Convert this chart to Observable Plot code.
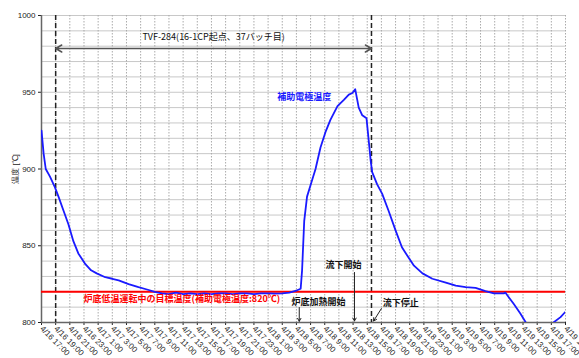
<!DOCTYPE html>
<html><head><meta charset="utf-8">
<script src="https://cdn.jsdelivr.net/npm/d3@7"></script>
<script src="https://cdn.jsdelivr.net/npm/@observablehq/plot@0.6"></script>
<style>body{margin:0;background:#fff} #chart svg{display:block}</style>
</head><body><div id="chart"></div>
<script>
// hours elapsed since 4/16 17:00
const hours = [0,0.3,0.6,1.2,1.9,2.4,3.1,3.8,4.5,5.2,6.2,7.0,7.8,9.0,10.0,10.9,12.3,13.7,14.9,16,17,18,19,20,21,22,23,24,25,26,27,28,29,30,31,32,33,34,35,36.1,36.6,36.8,37.1,37.5,38.1,38.7,39.4,40.1,40.8,41.8,42.7,43.4,43.9,44.3,44.8,45.3,45.9,46.2,46.5,46.7,47.4,48.1,49.0,50.0,50.9,51.6,52.6,53.8,55.2,57.1,58.5,59.9,61.3,62.7,63.9,65.3,65.5,66.7,67.6,68.4,69,72,72.3,73.3,74];
const temps = [925,910,900,895,888,882,873,864,853,845,838,834,832,829.5,828.5,827.5,825,823,821.5,820,819,818.5,819.5,818.5,819,818.5,819,818.5,819,819,818.5,819,819,818.5,819,819,818.8,819,819.5,821,822,834,866,882,891,900,914,924,932,941,945,948.5,949.5,952,940,935,933,919,905,898,890,884,873,860,849,844,837,832,828.5,826,824,823,822.5,820.5,819,819,819.5,812,806,800,797,797,800,803.5,807];
const tickHours = [0,2,4,6,8,10,12,14,16,18,20,22,24,26,28,30,32,34,36,38,40,42,44,46,48,50,52,54,56,58,60,62,64,66,68,70,72,74];
const tickLabels = ["4/16 17:00","4/16 19:00","4/16 21:00","4/16 23:00","4/17 1:00","4/17 3:00","4/17 5:00","4/17 7:00","4/17 9:00","4/17 11:00","4/17 13:00","4/17 15:00","4/17 17:00","4/17 19:00","4/17 21:00","4/17 23:00","4/18 1:00","4/18 3:00","4/18 5:00","4/18 7:00","4/18 9:00","4/18 11:00","4/18 13:00","4/18 15:00","4/18 17:00","4/18 19:00","4/18 21:00","4/18 23:00","4/19 1:00","4/19 3:00","4/19 5:00","4/19 7:00","4/19 9:00","4/19 11:00","4/19 13:00","4/19 15:00","4/19 17:00","4/19 19:00"];
const yTicks = [800,850,900,950,1000];
const yGrid = [810,820,830,840,850,860,870,880,890,900,910,920,930,940,950,960,970,980,990,1000];
const targetTemp = 820;
const batchHours = [2, 46.6];
const texts = ["TVF-284(16-1CP起点、37バッチ目)","補助電極温度","炉底低温運転中の目標温度(補助電極温度:820℃)","炉底加熱開始","流下開始","流下停止"];
const eventHours = [36.4, 44.2, 46.9];

const data = hours.map((h,i)=>({h, t: temps[i]}));
const labelOf = new Map(tickHours.map((h,i)=>[h, tickLabels[i]]));
const jp = "'Noto Sans CJK JP', sans-serif";

const chart = Plot.plot({
  width: 579, height: 358,
  marginLeft: 41, marginRight: 14, marginTop: 15, marginBottom: 36,
  style: {fontFamily: "'Liberation Sans', Arial, sans-serif", fontSize: "8px", background: "#fff", color: "#222"},
  x: {domain: [0, 74]},
  y: {domain: [800, 1000]},
  marks: [
    Plot.ruleY(yGrid, {stroke: "#c8c8c8", strokeWidth: 1}),
    Plot.ruleX(tickHours.slice(1), {stroke: "#aaa", strokeDasharray: "1.5,1.5", strokeWidth: 1}),
    Plot.axisX({ticks: tickHours, tickFormat: d => labelOf.get(d), tickRotate: 45, tickSize: 3, tickPadding: 2, label: null, fontSize: 8}),
    Plot.axisY({ticks: yTicks, tickFormat: d => String(d), tickSize: 3, tickPadding: 3, label: "温度 [℃]", labelAnchor: "center", labelArrow: "none", labelOffset: 29, fontSize: 8}),
    Plot.ruleX([0], {stroke: "#666", strokeWidth: 1.5}),
    Plot.ruleY([800], {stroke: "#666", strokeWidth: 1.5}),
    Plot.ruleX(batchHours, {stroke: "#222", strokeWidth: 1.5, strokeDasharray: "5,3"}),
    Plot.ruleY([targetTemp], {stroke: "#ff0000", strokeWidth: 2}),
    Plot.line(data, {x: "h", y: "t", stroke: "#1a1aff", strokeWidth: 1.8, clip: true}),
    // span arrow
    Plot.arrow([{x1: 24.3, x2: batchHours[0]}, {x1: 24.3, x2: batchHours[1]}], {x1: "x1", x2: "x2", y1: 978.5, y2: 978.5, stroke: "#555", strokeWidth: 1.5, headLength: 7}),
    Plot.text([texts[0]], {x: 24.3, y: 985.7, text: d => d, fontFamily: jp, fontSize: 9, fill: "#111"}),
    Plot.text([texts[1]], {x: 37.1, y: 946.6, text: d => d, fontFamily: jp, fontSize: 9, fontWeight: "bold", fill: "#1a1aff"}),
    Plot.text([texts[2]], {x: 5.93, y: 815.2, text: d => d, textAnchor: "start", fontFamily: jp, fontSize: 9, fontWeight: "bold", fill: "#ff0000"}),
    Plot.text([texts[3]], {x: 35.3, y: 813.4, text: d => d, textAnchor: "start", fontFamily: jp, fontSize: 9, fontWeight: "bold", fill: "#111"}),
    Plot.text([texts[4]], {x: 40.1, y: 837.1, text: d => d, textAnchor: "start", fontFamily: jp, fontSize: 9, fontWeight: "bold", fill: "#111"}),
    Plot.text([texts[5]], {x: 48.2, y: 812.8, text: d => d, textAnchor: "start", fontFamily: jp, fontSize: 9, fontWeight: "bold", fill: "#111"}),
    Plot.arrow([
      {x1: eventHours[0], y1: 809.8, x2: eventHours[0], y2: 800.8},
      {x1: eventHours[1], y1: 832.6, x2: eventHours[1], y2: 801.0},
      {x1: 48.0, y1: 809.1, x2: eventHours[2], y2: 801.0}
    ], {x1: "x1", y1: "y1", x2: "x2", y2: "y2", stroke: "#222", strokeWidth: 1, headLength: 5})
  ]
});
document.getElementById("chart").append(chart);
</script>
</body></html>
